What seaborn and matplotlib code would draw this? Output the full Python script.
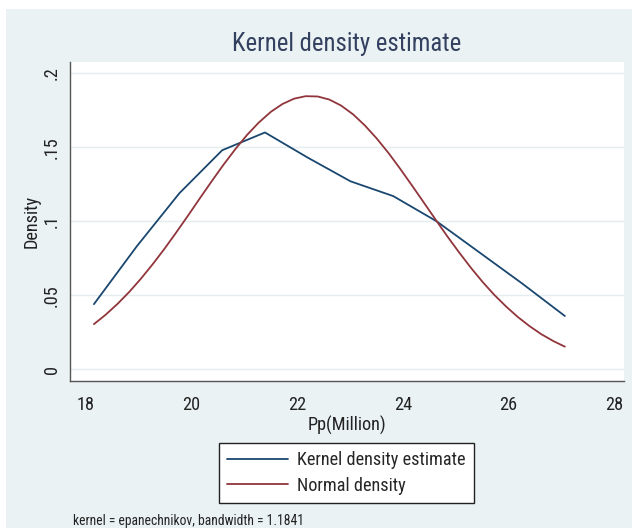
import matplotlib
matplotlib.use("Agg")
import matplotlib.pyplot as plt
from matplotlib import font_manager
from matplotlib.patches import Rectangle
import pandas as pd
import seaborn as sns

# Evaluation grid and estimated densities
kde_x = [18.15, 18.96, 19.77, 20.58, 21.39, 22.20, 23.01, 23.82, 24.64, 25.45, 26.26, 27.07]
kde_y = [0.044, 0.083, 0.119, 0.148, 0.160, 0.143, 0.127, 0.117, 0.100, 0.079, 0.058, 0.036]

norm_x = [18.15, 18.37, 18.60, 18.82, 19.04, 19.27, 19.49, 19.71, 19.93, 20.16,
          20.38, 20.60, 20.83, 21.05, 21.27, 21.50, 21.72, 21.94, 22.16, 22.39,
          22.61, 22.83, 23.06, 23.28, 23.50, 23.73, 23.95, 24.17, 24.39, 24.62,
          24.84, 25.06, 25.29, 25.51, 25.73, 25.96, 26.18, 26.40, 26.62, 26.85, 27.07]
norm_y = [0.0305, 0.0368, 0.0443, 0.0523, 0.0612, 0.0713, 0.0816, 0.0925, 0.1037, 0.1157,
          0.1270, 0.1380, 0.1488, 0.1583, 0.1666, 0.1739, 0.1792, 0.1828, 0.1845, 0.1843,
          0.1822, 0.1782, 0.1722, 0.1648, 0.1562, 0.1461, 0.1355, 0.1244, 0.1131, 0.1012,
          0.0900, 0.0793, 0.0686, 0.0591, 0.0504, 0.0423, 0.0353, 0.0292, 0.0238, 0.0191, 0.0153]

x_ticks = [18, 20, 22, 24, 26, 28]
y_ticks = [0, 0.05, 0.1, 0.15, 0.2]
y_tick_labels = ["0", ".05", ".1", ".15", ".2"]

series_names = ["Kernel density estimate", "Normal density"]
title_text = "Kernel density estimate"
x_label = "Pp(Million)"
y_label = "Density"
note_text = "kernel = epanechnikov, bandwidth = 1.1841"

sns.set_style("white")


def pick_font():
    """Pick a narrow grotesque face if one is installed."""
    fl = font_manager.fontManager.ttflist
    names = {f.name for f in fl}
    for fam in ("Liberation Sans Narrow", "Arial Narrow", "Roboto Condensed"):
        if fam in names:
            return fam, "normal"
    for stretch in ("condensed", "semi-condensed"):
        for fam in ("Roboto", "Liberation Sans", "Noto Sans", "Open Sans", "DejaVu Sans"):
            if any(f.name == fam and f.stretch == stretch for f in fl):
                return fam, stretch
    return "Liberation Sans", "normal"


family, stretch = pick_font()
plt.rcParams["font.family"] = [family, "DejaVu Sans"]
plt.rcParams["font.stretch"] = stretch

BG = "#EAF2F3"
BLUE = "#1A476F"
RED = "#90353B"
W, H = 632, 528

fig = plt.figure(figsize=(W / 100, H / 100), dpi=100)
fig.patch.set_facecolor("white")
fig.add_artist(Rectangle((6 / W, 0), 1 - 6 / W, 1 - 9 / H, transform=fig.transFigure,
                         facecolor=BG, edgecolor="none", zorder=-10))

# Size the type so the title spans its usual 229 px width
title = fig.text(347 / W, 1 - 44 / H, title_text, ha="center", va="center",
                 fontsize=19, color="#33405F")
renderer = fig.canvas.get_renderer()
k = 229.0 / title.get_window_extent(renderer).width
TITLE_FS = 19 * k
LABEL_FS = 14 * k
NOTE_FS = 10.5 * k
title.set_fontsize(TITLE_FS)
px_per_em = LABEL_FS * 100 / 72

ax_w, ax_h = 624 - 70, 381 - 61.7
ax = fig.add_axes([70 / W, 1 - 381 / H, ax_w / W, ax_h / H])
ax.set_facecolor("white")

df = pd.concat([
    pd.DataFrame({"x": kde_x, "y": kde_y, "series": series_names[0]}),
    pd.DataFrame({"x": norm_x, "y": norm_y, "series": series_names[1]}),
])
sns.lineplot(data=df, x="x", y="y", hue="series", palette=[BLUE, RED],
             linewidth=1.3, ax=ax, legend=False, sort=False, estimator=None)

ax.set_xlim(17.697, 28.19)
ax.set_ylim(-0.0079, 0.2078)
ax.set_xticks(x_ticks)
ax.set_xticklabels([str(t) for t in x_ticks])
ax.set_yticks(y_ticks)
ax.set_yticklabels(y_tick_labels, rotation=90, va="center")
for y in y_ticks:
    ax.axhline(y, color="#E4EDEF", linewidth=1.0, zorder=0)

for side in ["top", "right"]:
    ax.spines[side].set_visible(False)
for side in ["left", "bottom"]:
    ax.spines[side].set_color("#555555")
    ax.spines[side].set_linewidth(1.0)
ax.tick_params(axis="both", direction="out", length=5.5, width=1.0, color="#555555",
               labelsize=LABEL_FS, labelcolor="#222222")
ax.tick_params(axis="y", pad=1)
ax.tick_params(axis="x", pad=5)

ax.set_xlabel(x_label, fontsize=LABEL_FS, color="#222222")
ax.set_ylabel(y_label, fontsize=LABEL_FS, color="#222222")
ax.xaxis.set_label_coords(0.5, -(425 - 381) / ax_h)
ax.xaxis.label.set_va("center")
ax.yaxis.set_label_coords(-(70 - 32) / ax_w, 0.5)
ax.yaxis.label.set_va("center")

handles = [plt.Line2D([], [], color=BLUE, linewidth=1.3),
           plt.Line2D([], [], color=RED, linewidth=1.3)]
leg = fig.legend(handles, series_names, loc="center",
                 bbox_to_anchor=(346.5 / W, 1 - 473 / H), fontsize=LABEL_FS,
                 frameon=True, fancybox=False, framealpha=1, edgecolor="#222222",
                 facecolor="white", handlelength=61 / px_per_em,
                 handletextpad=9 / px_per_em, labelspacing=0.4, borderpad=0.45,
                 borderaxespad=0)
leg.get_frame().set_linewidth(1.0)

fig.text(73 / W, 1 - 521 / H, note_text, ha="left", va="center",
         fontsize=NOTE_FS, color="#222222")

fig.savefig("out.png", dpi=100, facecolor=fig.get_facecolor())
